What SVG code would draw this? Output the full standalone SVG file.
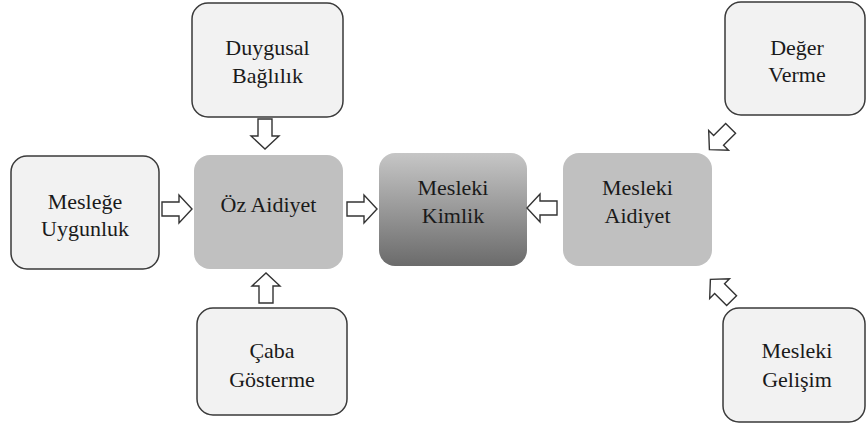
<svg xmlns="http://www.w3.org/2000/svg" width="867" height="428" viewBox="0 0 867 428">
<style>
.lite{fill:#f2f2f2;stroke:#3a3a3a;stroke-width:1.5}
.mid{fill:#c0c0c0;stroke:none}
.t{font-family:'Liberation Serif','Times New Roman',serif;font-size:22px;fill:#1a1a1a;text-anchor:middle}
.arr{fill:#ffffff;stroke:#333333;stroke-width:1.4;stroke-linejoin:miter}
</style>
<defs>
<linearGradient id="g" x1="0" y1="0" x2="0" y2="1">
<stop offset="0" stop-color="#c6c6c6"/>
<stop offset="1" stop-color="#6b6b6b"/>
</linearGradient>
<path id="ar" d="M-15,-7 H2 V-14 L15,0 L2,14 V7 H-15 Z"/>
</defs>
<rect width="867" height="428" fill="#ffffff"/>
<g id="duygusal">
<rect class="lite" x="192" y="3" width="151" height="114" rx="16"/>
<text class="t" x="267.5" y="55">Duygusal</text>
<text class="t" x="267.5" y="83">Bağlılık</text>
</g>
<g id="meslege">
<rect class="lite" x="11" y="156" width="148" height="113" rx="16"/>
<text class="t" x="85" y="209">Mesleğe</text>
<text class="t" x="85" y="236">Uygunluk</text>
</g>
<g id="oz">
<rect class="mid" x="194" y="155" width="149" height="114" rx="16"/>
<text class="t" x="268.5" y="212">Öz Aidiyet</text>
</g>
<g id="kimlik">
<rect x="379" y="153" width="148" height="113" rx="16" fill="url(#g)"/>
<text class="t" x="453" y="195">Mesleki</text>
<text class="t" x="453" y="223">Kimlik</text>
</g>
<g id="aidiyet">
<rect class="mid" x="563" y="153" width="149" height="113" rx="16"/>
<text class="t" x="637.5" y="195">Mesleki</text>
<text class="t" x="637.5" y="223">Aidiyet</text>
</g>
<g id="deger">
<rect class="lite" x="725" y="2" width="140" height="113" rx="16"/>
<text class="t" x="797" y="55">Değer</text>
<text class="t" x="797" y="82">Verme</text>
</g>
<g id="gelisim">
<rect class="lite" x="723" y="308" width="142" height="114" rx="16"/>
<text class="t" x="797" y="358">Mesleki</text>
<text class="t" x="797" y="387">Gelişim</text>
</g>
<g id="caba">
<rect class="lite" x="197" y="308" width="150" height="107" rx="16"/>
<text class="t" x="272" y="358">Çaba</text>
<text class="t" x="272" y="387">Gösterme</text>
</g>
<g id="connectors">
<use href="#ar" class="arr" transform="translate(177,209)"/>
<use href="#ar" class="arr" transform="translate(362,209)"/>
<use href="#ar" class="arr" transform="translate(542,208) rotate(180)"/>
<use href="#ar" class="arr" transform="translate(265,134) rotate(90)"/>
<use href="#ar" class="arr" transform="translate(266,288) rotate(-90)"/>
<use href="#ar" class="arr" transform="translate(720,139) rotate(135)"/>
<use href="#ar" class="arr" transform="translate(721,290) rotate(-135)"/>
</g>
</svg>
